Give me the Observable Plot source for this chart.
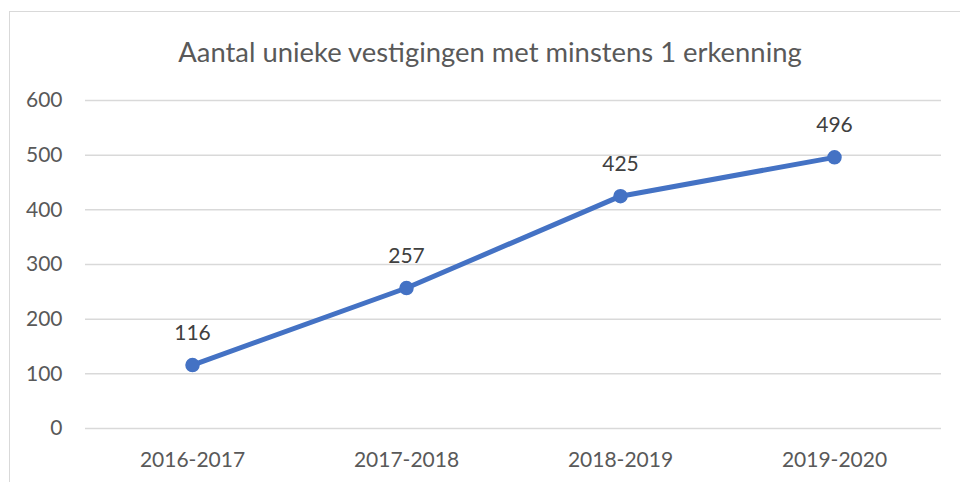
<!DOCTYPE html>
<html>
<head>
<meta charset="utf-8">
<script src="https://cdn.jsdelivr.net/npm/d3@7"></script>
<script src="https://cdn.jsdelivr.net/npm/@observablehq/plot@0.6"></script>
<style>
  html, body { margin: 0; padding: 0; background: #fff; }
  #wrap { position: relative; width: 960px; height: 482px; overflow: hidden; font-family: Lato, sans-serif; }
  #frame { position: absolute; left: 9px; top: 11px; width: 2000px; height: 2000px; border-left: 1.5px solid #d9d9d9; border-top: 1.5px solid #d9d9d9; }
  #title { position: absolute; left: 0; top: 33px; width: 980px; text-align: center; font-size: 27.4px; color: #595959; line-height: 38px; }
  #chart { position: absolute; left: 0; top: 80px; }
</style>
</head>
<body>
<div id="wrap">
  <div id="frame"></div>
  <div id="title">Aantal unieke vestigingen met minstens 1 erkenning</div>
  <div id="chart"></div>
</div>
<script>
const titleText = "Aantal unieke vestigingen met minstens 1 erkenning";
const categories = ["2016-2017", "2017-2018", "2018-2019", "2019-2020"];
const values = [116, 257, 425, 496];
const yTicks = [0, 100, 200, 300, 400, 500, 600];

document.getElementById("title").textContent = titleText;
const data = categories.map((c, i) => ({ period: c, value: values[i] }));

const chart = Plot.plot({
  width: 960,
  height: 402,
  marginLeft: 85,
  marginRight: 19,
  marginTop: 20,
  marginBottom: 54,
  style: { fontFamily: "Lato, sans-serif", fontSize: "21px", color: "#595959", background: "transparent" },
  x: { type: "point", domain: categories, padding: 0.5, label: null },
  y: { domain: [0, 600], label: null },
  marks: [
    Plot.gridY(yTicks, { stroke: "#d9d9d9", strokeOpacity: 1, strokeWidth: 1.5 }),
    Plot.axisY(yTicks, { tickSize: 0, tickPadding: 23, fontSize: 21, fill: "#595959", label: null }),
    Plot.axisX({ tickSize: 0, tickPadding: 24, fontSize: 21, fill: "#595959", label: null }),
    Plot.line(data, { x: "period", y: "value", stroke: "#4472C4", strokeWidth: 5, strokeLinecap: "round", strokeLinejoin: "round" }),
    Plot.dot(data, { x: "period", y: "value", r: 6.5, fill: "#4472C4", stroke: "#4472C4" }),
    Plot.text(data, { x: "period", y: "value", text: d => String(d.value), dy: -32, fontSize: 21, fill: "#404040" })
  ]
});
document.getElementById("chart").appendChild(chart);
</script>
</body>
</html>
